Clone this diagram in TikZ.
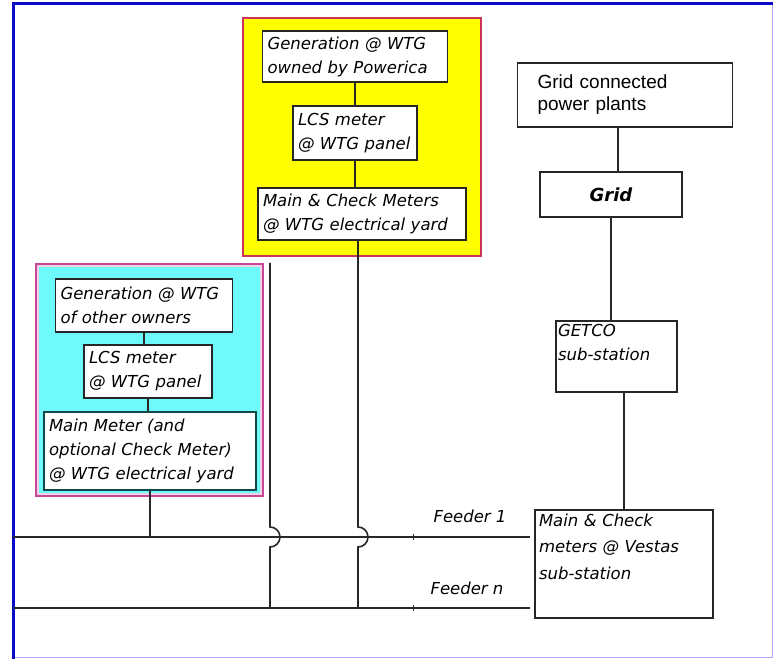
\documentclass[tikz,border=0pt]{standalone}
\usepackage{fontspec}
\newfontfamily\boxfont{DejaVu Sans}
\newfontfamily\plainfont{Liberation Sans}
\usepackage{tikz}
\usetikzlibrary{calc}
\usepackage{xcolor}
\definecolor{frameblue}{RGB}{10,10,200}
\definecolor{framelight}{RGB}{170,170,255}
\definecolor{boxyellow}{RGB}{255,255,0}
\definecolor{boxred}{RGB}{205,50,90}
\definecolor{boxcyan}{RGB}{110,250,250}
\definecolor{boxpink}{RGB}{200,70,150}
\definecolor{boxteal}{RGB}{20,70,70}
\definecolor{wirecol}{RGB}{40,40,40}

\tikzset{
  meter/.style={draw=black!85, line width=1.4pt, fill=white, align=left, inner xsep=5pt, inner ysep=2pt,
    font=\boxfont\itshape\fontsize{16.5}{24}\selectfont},
  wire/.style={draw=wirecol, line width=1.6pt},
  feeder/.style={font=\boxfont\itshape\fontsize{16.5}{20}\selectfont, inner sep=0pt}
}

\begin{document}
\begin{tikzpicture}[x=1pt,y=1pt]
\useasboundingbox (0,0) rectangle (773,659);
\draw[framelight, line width=1pt] (13,2) -- (772,2) -- (772,655);
\draw[frameblue, line width=3pt] (13,0) -- (13,655) -- (773,655);

\filldraw[fill=boxyellow, draw=boxred, line width=2pt] (243,403) rectangle (481,641);
\filldraw[fill=boxpink!25, draw=boxpink, line width=2pt] (36,163) rectangle (263,395);
\fill[boxcyan] (39,166) rectangle (260,392);

\node[meter, text width=175pt, minimum height=51pt] (genP) at (355,602.5) {Generation @ WTG\\owned by Powerica};
\node[meter, text width=114pt, minimum height=54pt] (lcsP) at (355,526) {LCS meter\\@ WTG panel};
\node[meter, text width=198pt, minimum height=52pt] (mainP) at (362,445) {Main \& Check Meters\\@ WTG electrical yard};

\node[meter, text width=167pt, minimum height=53pt] (genO) at (144,353.5) {Generation @ WTG\\of other owners};
\node[meter, text width=118pt, minimum height=53pt] (lcsO) at (148,287.5) {LCS meter\\@ WTG panel};
\node[meter, draw=boxteal, text width=202pt, minimum height=78pt] (mainO) at (150,208) {Main Meter (and\\optional Check Meter)\\@ WTG electrical yard};

\node[meter, font=\plainfont\fontsize{19}{22}\selectfont, inner xsep=20pt, text width=175pt, minimum height=64pt] (plants) at (625,564) {Grid connected\\power plants};
\node[meter, align=center, font=\boxfont\bfseries\itshape\fontsize{18}{22}\selectfont, text width=132pt, minimum height=45pt] (grid) at (611,464.5) {Grid};
\node[meter, inner xsep=2pt, inner ysep=3pt, text width=117pt, text height=13pt, text depth=52pt] (getco) at (616.5,302.5) {GETCO\\sub-station};
\node[meter, font=\boxfont\itshape\fontsize{16.5}{26.5}\selectfont, inner xsep=4pt, inner ysep=3pt, text width=170pt, text height=13pt, text depth=89pt] (vestas) at (624,95) {Main \& Check\\meters @ Vestas\\sub-station};

\coordinate (f1w) at (13,122);
\coordinate (f1e) at (530,122);
\coordinate (fnw) at (13,51);
\coordinate (fne) at (530,51);
\coordinate (riser) at (270,396);

\draw[wire] (genP.south) -- (genP.south |- lcsP.north);
\draw[wire] (lcsP.south) -- (lcsP.south |- mainP.north);
\draw[wire] ([xshift=-4pt]mainP.south) -- ($([xshift=-4pt]mainP.south |- f1w)+(0,10)$) arc (90:-90:10) -- ([xshift=-4pt]mainP.south |- fnw);

\draw[wire] (genO.south) -- (genO.south |- lcsO.north);
\draw[wire] (lcsO.south) -- (lcsO.south |- mainO.north);
\draw[wire] (mainO.south) -- (mainO.south |- f1w);
\draw[wire] (riser) -- ($(riser |- f1w)+(0,10)$) arc (90:-90:10) -- (riser |- fnw);

\draw[wire] ([xshift=-7pt]plants.south) -- ([xshift=-7pt]plants.south |- grid.north);
\draw[wire] (grid.south) -- (grid.south |- getco.north);
\draw[wire] (vestas.north) -- (vestas.north |- getco.south);

\draw[wire] (f1w) -- (f1e);
\draw[wire] (fnw) -- (fne);
\draw[wire, line width=1pt] ($(f1w)+(400,-3)$) -- ++(0,6);
\draw[wire, line width=1pt] ($(fnw)+(400,-3)$) -- ++(0,6);

\node[feeder] (feed1) at (470,143) {Feeder 1};
\node[feeder] (feedn) at (467,71) {Feeder n};
\end{tikzpicture}
\end{document}
